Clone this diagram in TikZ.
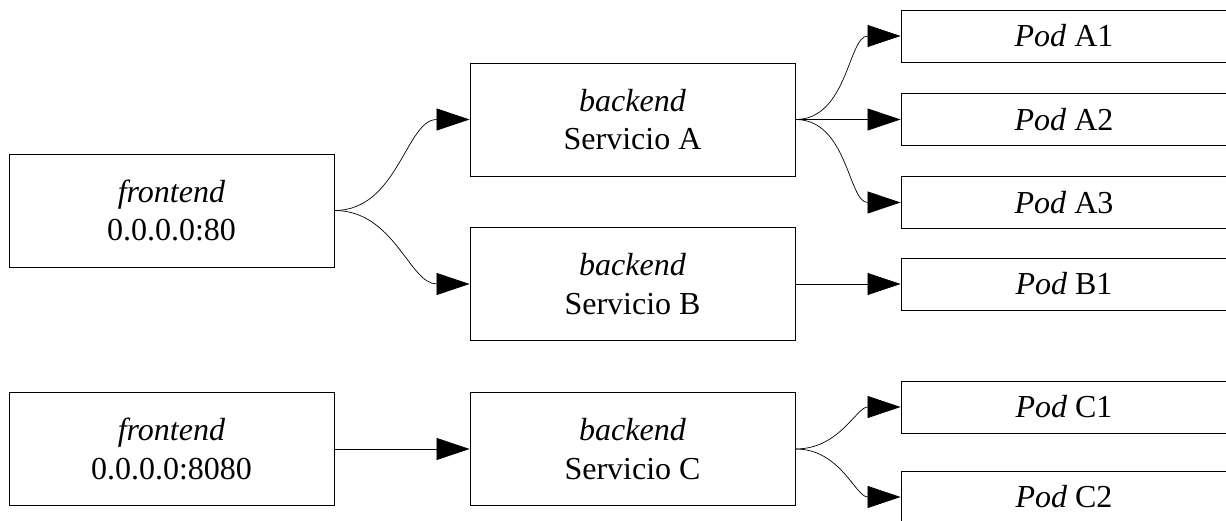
\documentclass[tikz,border=0pt]{standalone}
\usepackage{fontspec}
\setmainfont{Liberation Serif}
\usetikzlibrary{positioning, arrows.meta}

\begin{document}
\begin{tikzpicture}[x=1pt, y=-1pt,
    caja/.style={draw, line width=0.9pt, minimum width=325pt, minimum height=113pt,
        inner sep=0pt, align=center, font=\fontsize{32}{38.5}\selectfont},
    pod/.style={draw, line width=0.9pt, minimum width=326pt, minimum height=52pt,
        inner sep=0pt, font=\fontsize{32}{38.5}\selectfont},
    flecha/.style={line width=0.7pt, -{Triangle[length=33pt, width=22pt]}}]

    \useasboundingbox (0,0) rectangle (1226,521);

    % Frontends
    \node[caja] (fe80) at (171.5,210.5) {\textit{frontend}\\0.0.0.0:80};
    \node[caja] (fe8080) at (171.5,449) {\textit{frontend}\\0.0.0.0:8080};

    % Backend services
    \node[caja] (svcA) at (632.5,119.5) {\textit{backend}\\Servicio A};
    \node[caja] (svcB) at (632.5,284) {\textit{backend}\\Servicio B};
    \node[caja] (svcC) at (632.5,449) {\textit{backend}\\Servicio C};

    % Pods (cut off at the right edge)
    \node[pod] (podA1) at (1064,36) {\textit{Pod} A1};
    \node[pod] (podA2) at (1064,119.5) {\textit{Pod} A2};
    \node[pod] (podA3) at (1064,202.5) {\textit{Pod} A3};
    \node[pod] (podB1) at (1064,284) {\textit{Pod} B1};
    \node[pod] (podC1) at (1064,407) {\textit{Pod} C1};
    \node[pod] (podC2) at (1064,497) {\textit{Pod} C2};

    % Frontend -> services
    \draw[flecha] (fe80.east) to[out=0, in=180] (svcA.west);
    \draw[flecha] (fe80.east) to[out=0, in=180] (svcB.west);
    \draw[flecha] (fe8080.east) -- (svcC.west);

    % Service A fans out to three pods
    \draw[flecha] (svcA.east) to[out=0, in=180] (podA1.west);
    \draw[flecha] (svcA.east) -- (podA2.west);
    \draw[flecha] (svcA.east) to[out=0, in=180] (podA3.west);

    % Service B has one pod
    \draw[flecha] (svcB.east) -- (podB1.west);

    % Service C splits in two
    \draw[flecha] (svcC.east) to[out=0, in=180] (podC1.west);
    \draw[flecha] (svcC.east) to[out=0, in=180] (podC2.west);

\end{tikzpicture}
\end{document}
